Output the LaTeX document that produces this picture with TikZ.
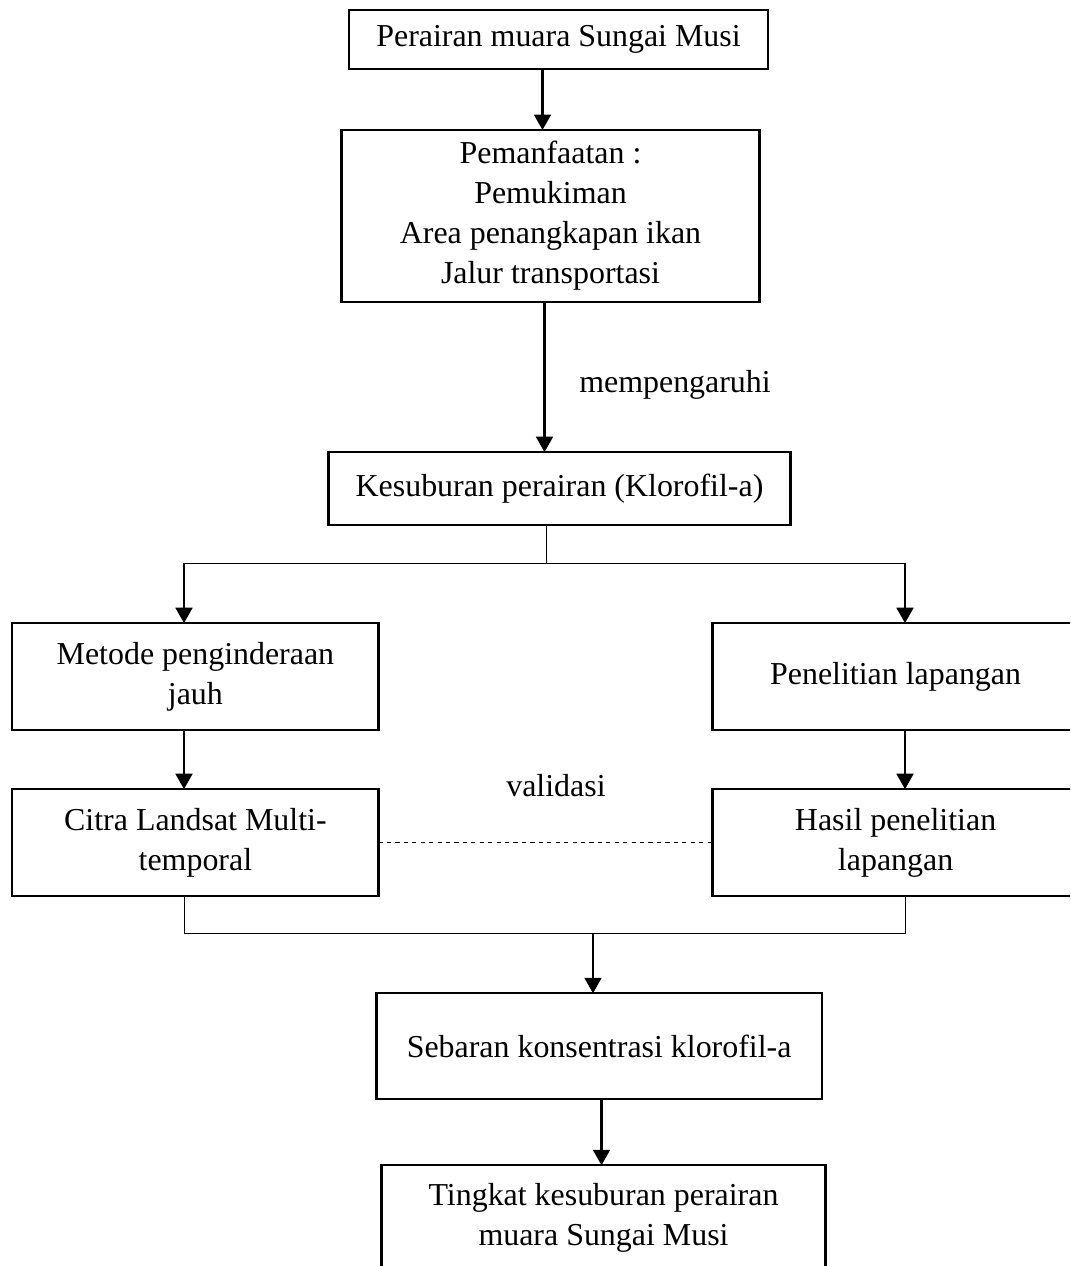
\documentclass[tikz,border=0pt]{standalone}
\usepackage{fontspec}
\setmainfont{Liberation Serif}
\usepackage{tikz}
\usetikzlibrary{arrows.meta, positioning, calc}

\begin{document}
\begin{tikzpicture}[
    x=0.025cm, y=-0.025cm,
    box/.style={rectangle, draw, line width=1.6pt, outer sep=0pt, align=center, inner sep=2pt, font={\fontsize{22.7}{28.5}\selectfont}},
    arr/.style={line width=1.5pt, -{Triangle[length=11pt, width=12pt]}},
    thin/.style={line width=0.6pt},
    lbl/.style={font={\fontsize{22.7}{28.5}\selectfont}}
]
    \clip (0,0) rectangle (1070,1266);

    \node[box, minimum width=10.475cm, minimum height=1.475cm] (top) at (558.5,39.5) {Perairan muara Sungai Musi};

    \node[box, minimum width=10.45cm, minimum height=4.3cm, below=1.525cm of top, xshift=-0.2cm] (use) {
        Pemanfaatan :\\
        Pemukiman\\
        Area penangkapan ikan\\
        Jalur transportasi
    };

    \node[box, minimum width=11.55cm, minimum height=1.825cm, below=3.75cm of use, xshift=0.225cm] (fert) {Kesuburan perairan (Klorofil-a)};

    \node[box, minimum width=9.15cm, minimum height=2.675cm, below=2.45cm of fert, xshift=-9.1cm] (rs) {Metode penginderaan\\jauh};
    \node[box, minimum width=9.15cm, minimum height=2.675cm, right=8.35cm of rs] (field) {Penelitian lapangan};

    \node[box, minimum width=9.15cm, minimum height=2.675cm, below=1.475cm of rs] (landsat) {Citra Landsat Multi-\\temporal};
    \node[box, minimum width=9.15cm, minimum height=2.675cm, below=1.475cm of field] (result) {Hasil penelitian\\lapangan};

    \node[box, minimum width=11.125cm, minimum height=2.65cm, below=2.425cm of landsat, xshift=10.09cm] (spread) {Sebaran konsentrasi klorofil-a};
    \node[box, minimum width=11.1cm, minimum height=2.65cm, below=1.65cm of spread, xshift=0.11cm] (level) {Tingkat kesuburan perairan\\muara Sungai Musi};

    \node[lbl] (infl) at (675,385) {mempengaruhi};
    \node[lbl] (valid) at (556,786) {validasi};

    \coordinate (lt) at (184,563);
    \coordinate (rt) at (905,563);
    \coordinate (lb) at (184,933);
    \coordinate (rb) at (905,933);
    \coordinate (join) at (593,933);

    \draw[arr] ([xshift=-0.4cm]top.south) -- ([xshift=-0.4cm]top.south |- use.north);
    \draw[arr] ([xshift=-0.15cm]use.south) -- ([xshift=-0.15cm]use.south |- fert.north);

    \draw[thin] ([xshift=-0.325cm]fert.south) |- (lt);
    \draw[thin] (lt) -- (rt);
    \draw[arr] (lt) -- (lt |- rs.north);
    \draw[arr] (rt) -- (rt |- field.north);
    \draw[arr] (lt |- rs.south) -- (lt |- landsat.north);
    \draw[arr] (rt |- field.south) -- (rt |- result.north);

    \draw[thin, dashed] (landsat.east) -- (result.west);

    \draw[thin] (lb |- landsat.south) -- (lb) -- (rb) -- (rb |- result.south);
    \draw[arr] (join) -- (join |- spread.north);
    \draw[arr] ([xshift=0.06cm]spread.south) -- ([xshift=0.06cm]spread.south |- level.north);

\end{tikzpicture}
\end{document}
